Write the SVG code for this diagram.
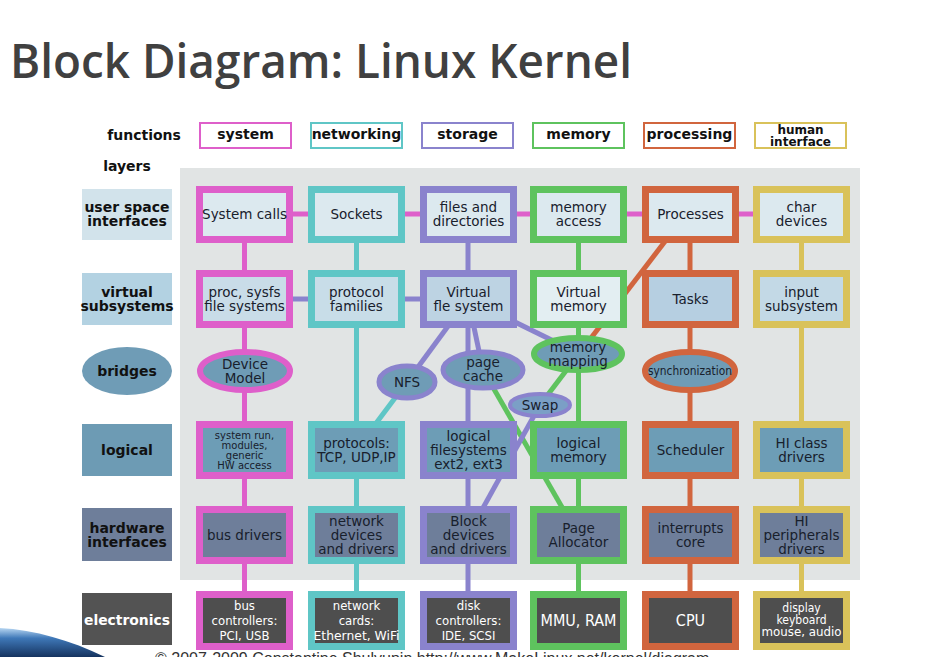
<svg xmlns="http://www.w3.org/2000/svg" width="934" height="657" viewBox="0 0 934 657">
<defs>
<linearGradient id="sw" x1="0" y1="0" x2="0" y2="1">
<stop offset="0" stop-color="#b7d6f2"/>
<stop offset="0.35" stop-color="#3f78b8"/>
<stop offset="1" stop-color="#15335f"/>
</linearGradient>
</defs>
<style>
.t{font-family:"DejaVu Sans","Liberation Sans",sans-serif;font-size:13.5px;fill:#18202c;text-anchor:middle}
.s{font-size:10px}
.c{font-family:"DejaVu Sans Condensed","DejaVu Sans",sans-serif;font-stretch:condensed;fill:#ffffff;font-size:13px}
.hb{font-family:"DejaVu Sans","Liberation Sans",sans-serif;font-weight:bold;font-size:14px;fill:#111;text-anchor:middle}
.lb{font-size:14px}
.b{stroke-width:7}
.hf{fill:#ffffff;stroke-width:2}
.pk{stroke:#de5fca}.tl{stroke:#5fc6c6}.pu{stroke:#8a83cd}.gr{stroke:#5ec35e}.or{stroke:#d1653e}.ye{stroke:#d9c25a}
.r1{fill:#dce9ef}.r2{fill:#c3d9e6}.r3{fill:#6d9db6}.r4{fill:#6e7e9a}.r5{fill:#4e4e4e}
.el{fill:#6f9cb6;stroke-width:6}
.ln{fill:none;stroke-width:5}
</style>
<rect width="934" height="657" fill="#ffffff"/>
<text x="10" y="78" font-family="Open Sans, Liberation Sans, sans-serif" font-weight="600" font-size="47" fill="#404040" textLength="622" lengthAdjust="spacingAndGlyphs">Block Diagram: Linux Kernel</text>
<rect x="180" y="168" width="680" height="412" fill="#e1e4e4"/>

<g id="headers">
<text class="hb" x="144" y="140">functions</text>
<text class="hb" x="127" y="171">layers</text>
<rect class="hf pk" x="200" y="123" width="91" height="25"/><text class="hb" x="245.5" y="139">system</text>
<rect class="hf tl" x="311" y="123" width="91" height="25"/><text class="hb" x="356.5" y="139">networking</text>
<rect class="hf pu" x="422" y="123" width="91" height="25"/><text class="hb" x="467.5" y="139">storage</text>
<rect class="hf gr" x="533" y="123" width="91" height="25"/><text class="hb" x="578.5" y="139">memory</text>
<rect class="hf or" x="644" y="123" width="91" height="25"/><text class="hb" x="689.5" y="139">processing</text>
<rect class="hf ye" x="755" y="123" width="91" height="25"/><text class="hb" x="800.5" y="134" style="font-size:12px">human</text><text class="hb" x="800.5" y="146" style="font-size:12px">interface</text>
</g>

<g id="layer-labels">
<rect x="82" y="189" width="90" height="51" fill="#d2e3eb"/><text class="hb lb" x="127" y="212">user space</text><text class="hb lb" x="127" y="226">interfaces</text>
<rect x="82" y="273" width="90" height="52" fill="#b3d2e2"/><text class="hb lb" x="127" y="297">virtual</text><text class="hb lb" x="127" y="311">subsystems</text>
<ellipse cx="127" cy="371" rx="45" ry="24" fill="#6f9cb6"/><text class="hb lb" x="127" y="376">bridges</text>
<rect x="82" y="424" width="90" height="52" fill="#6d9bb4"/><text class="hb lb" x="127" y="455">logical</text>
<rect x="82" y="508" width="90" height="53" fill="#6e7e9a"/><text class="hb lb" x="127" y="533">hardware</text><text class="hb lb" x="127" y="547">interfaces</text>
<rect x="82" y="593" width="90" height="52" fill="#535353"/><text class="hb lb" x="127" y="625" style="fill:#fff" textLength="86" lengthAdjust="spacingAndGlyphs">electronics</text>
</g>

<g id="connectors" stroke-linecap="butt">
<line class="ln pk" x1="244.5" y1="214" x2="244.5" y2="620"/>
<line class="ln tl" x1="356.5" y1="214" x2="356.5" y2="620"/>
<line class="ln pu" x1="468" y1="214" x2="468" y2="620"/>
<line class="ln gr" x1="578.5" y1="214" x2="578.5" y2="620"/>
<line class="ln or" x1="690" y1="214" x2="690" y2="620"/>
<line class="ln ye" x1="801.5" y1="214" x2="801.5" y2="620"/>
<line class="ln pk" x1="290" y1="214" x2="310" y2="214"/>
<line class="ln pk" x1="400" y1="214" x2="422" y2="214"/>
<line class="ln pk" x1="512" y1="214" x2="532" y2="214"/>
<line class="ln pk" x1="622" y1="214" x2="644" y2="214"/>
<line class="ln pk" x1="734" y1="214" x2="755" y2="214"/>
<line class="ln pu" x1="290" y1="299" x2="310" y2="299"/>
<line class="ln pu" x1="400" y1="299" x2="422" y2="299"/>
<line class="ln or" x1="686" y1="214" x2="578" y2="355"/>
<line class="ln pu" x1="468" y1="299" x2="407" y2="382"/>
<line class="ln pu" x1="468" y1="299" x2="483" y2="370"/>
<line class="ln pu" x1="468" y1="299" x2="578" y2="353"/>
<line class="ln tl" x1="407" y1="382" x2="356" y2="450"/>
<line class="ln gr" x1="483" y1="370" x2="578" y2="535"/>
<line class="ln gr" x1="578" y1="355" x2="540" y2="405"/>
<line class="ln pu" x1="540" y1="405" x2="468" y2="535"/>
</g>

<g id="system-calls"><rect class="b pk r1" x="199.5" y="189.5" width="90" height="50"/><text class="t" x="244.5" y="219">System calls</text></g>
<g id="sockets"><rect class="b tl r1" x="311.5" y="189.5" width="90" height="50"/><text class="t" x="356.5" y="219">Sockets</text></g>
<g id="files-and-directories"><rect class="b pu r1" x="423.5" y="189.5" width="90" height="50"/><text class="t" x="468.5" y="212">files and</text><text class="t" x="468.5" y="226">directories</text></g>
<g id="memory-access"><rect class="b gr r1" x="533.5" y="189.5" width="90" height="50"/><text class="t" x="578.5" y="212">memory</text><text class="t" x="578.5" y="226">access</text></g>
<g id="processes"><rect class="b or r1" x="645.5" y="189.5" width="90" height="50"/><text class="t" x="690.5" y="219">Processes</text></g>
<g id="char-devices"><rect class="b ye r1" x="756.5" y="189.5" width="90" height="50"/><text class="t" x="801.5" y="212">char</text><text class="t" x="801.5" y="226">devices</text></g>

<g id="proc-sysfs"><rect class="b pk r2" x="199.5" y="273.5" width="90" height="51" style="fill:#c9dce8"/><text class="t" x="244.5" y="297">proc, sysfs</text><text class="t" x="244.5" y="311">file systems</text></g>
<g id="protocol-families"><rect class="b tl r2" x="311.5" y="273.5" width="90" height="51" style="fill:#c8dde8"/><text class="t" x="356.5" y="297">protocol</text><text class="t" x="356.5" y="311">families</text></g>
<g id="virtual-file-system"><rect class="b pu r2" x="423.5" y="273.5" width="90" height="51" style="fill:#bdd3e3"/><text class="t" x="468.5" y="297">Virtual</text><text class="t" x="468.5" y="311">fle system</text></g>
<g id="virtual-memory"><rect class="b gr r2" x="533.5" y="273.5" width="90" height="51" style="fill:#e3eef2"/><text class="t" x="578.5" y="297">Virtual</text><text class="t" x="578.5" y="311">memory</text></g>
<g id="tasks"><rect class="b or r2" x="645.5" y="273.5" width="90" height="51" style="fill:#b6cfe1"/><text class="t" x="690.5" y="304">Tasks</text></g>
<g id="input-subsystem"><rect class="b ye r2" x="756.5" y="273.5" width="90" height="51" style="fill:#c3d9e6"/><text class="t" x="801.5" y="297">input</text><text class="t" x="801.5" y="311">subsystem</text></g>

<g id="device-model"><ellipse class="el pk" cx="245" cy="371" rx="45" ry="19"/><text class="t" x="245" y="369">Device</text><text class="t" x="245" y="383">Model</text></g>
<g id="nfs"><ellipse class="el pu" cx="407" cy="382" rx="28" ry="16" style="stroke-width:5"/><text class="t" x="407" y="387">NFS</text></g>
<g id="page-cache"><ellipse class="el pu" cx="483" cy="370" rx="40" ry="18" style="stroke-width:5"/><text class="t" x="483" y="367">page</text><text class="t" x="483" y="381">cache</text></g>
<g id="memory-mapping"><ellipse class="el gr" cx="578" cy="354" rx="44" ry="16"/><text class="t" x="578" y="352">memory</text><text class="t" x="578" y="366">mapping</text></g>
<g id="swap"><ellipse class="el pu" cx="540" cy="405" rx="30" ry="11" style="stroke-width:4;fill:#7b9fc6"/><text class="t" x="540" y="410">Swap</text></g>
<g id="synchronization"><ellipse class="el or" cx="690" cy="371" rx="45" ry="19"/><text class="t" x="690" y="375" style="font-size:12px" textLength="84" lengthAdjust="spacingAndGlyphs">synchronization</text></g>

<g id="system-run"><rect class="b pk r3" x="199.5" y="424.5" width="90" height="51"/><text class="t s" x="244.5" y="439">system run,</text><text class="t s" x="244.5" y="449">modules,</text><text class="t s" x="244.5" y="459">generic</text><text class="t s" x="244.5" y="469">HW access</text></g>
<g id="protocols"><rect class="b tl r3" x="311.5" y="424.5" width="90" height="51"/><text class="t" x="356.5" y="448">protocols:</text><text class="t" x="356.5" y="462">TCP, UDP,IP</text></g>
<g id="logical-filesystems"><rect class="b pu r3" x="423.5" y="424.5" width="90" height="51"/><text class="t" x="468.5" y="441">logical</text><text class="t" x="468.5" y="455">filesystems</text><text class="t" x="468.5" y="469">ext2, ext3</text></g>
<g id="logical-memory"><rect class="b gr r3" x="533.5" y="424.5" width="90" height="51"/><text class="t" x="578.5" y="448">logical</text><text class="t" x="578.5" y="462">memory</text></g>
<g id="scheduler"><rect class="b or r3" x="645.5" y="424.5" width="90" height="51"/><text class="t" x="690.5" y="455">Scheduler</text></g>
<g id="hi-class-drivers"><rect class="b ye r3" x="756.5" y="424.5" width="90" height="51"/><text class="t" x="801.5" y="448">HI class</text><text class="t" x="801.5" y="462">drivers</text></g>

<g id="bus-drivers"><rect class="b pk r4" x="199.5" y="509.5" width="90" height="51"/><text class="t" x="244.5" y="540">bus drivers</text></g>
<g id="network-devices"><rect class="b tl r4" x="311.5" y="509.5" width="90" height="51"/><text class="t" x="356.5" y="526">network</text><text class="t" x="356.5" y="540">devices</text><text class="t" x="356.5" y="554">and drivers</text></g>
<g id="block-devices"><rect class="b pu r4" x="423.5" y="509.5" width="90" height="51"/><text class="t" x="468.5" y="526">Block</text><text class="t" x="468.5" y="540">devices</text><text class="t" x="468.5" y="554">and drivers</text></g>
<g id="page-allocator"><rect class="b gr r4" x="533.5" y="509.5" width="90" height="51"/><text class="t" x="578.5" y="533">Page</text><text class="t" x="578.5" y="547">Allocator</text></g>
<g id="interrupts-core"><rect class="b or r4" x="645.5" y="509.5" width="90" height="51"/><text class="t" x="690.5" y="533">interrupts</text><text class="t" x="690.5" y="547">core</text></g>
<g id="hi-peripherals"><rect class="b ye r4" x="756.5" y="509.5" width="90" height="51"/><text class="t" x="801.5" y="526">HI</text><text class="t" x="801.5" y="540">peripherals</text><text class="t" x="801.5" y="554">drivers</text></g>

<g id="bus-controllers"><rect class="b pk r5" x="199.5" y="594.5" width="90" height="52"/><text class="t c" x="244.5" y="610">bus</text><text class="t c" x="244.5" y="625">controllers:</text><text class="t c" x="244.5" y="640">PCI, USB</text></g>
<g id="network-cards"><rect class="b tl r5" x="311.5" y="594.5" width="90" height="52"/><text class="t c" x="356.5" y="610">network</text><text class="t c" x="356.5" y="625">cards:</text><text class="t c" x="356.5" y="640" textLength="86" lengthAdjust="spacingAndGlyphs">Ethernet, WiFi</text></g>
<g id="disk-controllers"><rect class="b pu r5" x="423.5" y="594.5" width="90" height="52"/><text class="t c" x="468.5" y="610">disk</text><text class="t c" x="468.5" y="625">controllers:</text><text class="t c" x="468.5" y="640">IDE, SCSI</text></g>
<g id="mmu-ram"><rect class="b gr r5" x="533.5" y="594.5" width="90" height="52"/><text class="t c" x="578.5" y="626" style="font-size:15px" textLength="76" lengthAdjust="spacingAndGlyphs">MMU, RAM</text></g>
<g id="cpu"><rect class="b or r5" x="645.5" y="594.5" width="90" height="52"/><text class="t c" x="690.5" y="626" style="font-size:16px">CPU</text></g>
<g id="display-keyboard"><rect class="b ye r5" x="756.5" y="594.5" width="90" height="52"/><text class="t c" x="801.5" y="612" style="font-size:12px">display</text><text class="t c" x="801.5" y="624" style="font-size:12px">keyboard</text><text class="t c" x="801.5" y="636" style="font-size:12px" textLength="80" lengthAdjust="spacingAndGlyphs">mouse, audio</text></g>

<path d="M0,628 C35,630 70,640 105,657 L0,657 Z" fill="url(#sw)"/>
<text x="155" y="664" font-family="Liberation Sans, sans-serif" font-size="16" fill="#333">© 2007-2009 Constantine Shulyupin http://www.MakeLinux.net/kernel/diagram</text>
</svg>
